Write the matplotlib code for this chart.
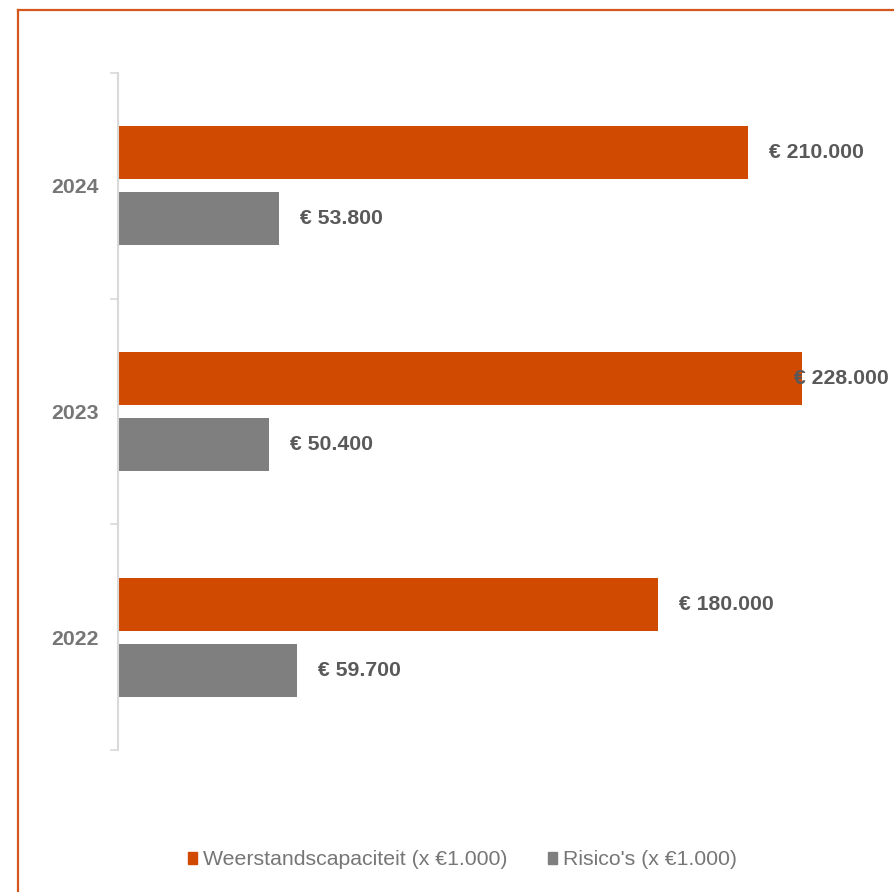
import matplotlib.pyplot as plt
from matplotlib.patches import Patch
from matplotlib.lines import Line2D

years = ['2022', '2023', '2024']
weerstand = [180000, 228000, 210000]
risicos = [59700, 50400, 53800]
series_names = ["Weerstandscapaciteit (x €1.000)", "Risico's (x €1.000)"]

ORANGE = '#D04A02'
GREY = '#7F7F7F'
FRAME = '#D6571C'
LABEL_COL = '#595959'
TICK_COL = '#767676'
FS = 15.3

plt.rcParams['font.family'] = ['Liberation Sans', 'DejaVu Sans']


def euro(v):
    return '€ ' + f'{v:,.0f}'.replace(',', '.')


fig = plt.figure(figsize=(8.94, 8.92), dpi=100)
ax = fig.add_axes([118 / 894, 142 / 892, 776 / 894, 677 / 892])

pos = range(len(years))
h = 0.235
off = 0.146
bars1 = ax.barh([p + off for p in pos], weerstand, height=h, color=ORANGE)
bars2 = ax.barh([p - off for p in pos], risicos, height=h, color=GREY)

ax.set_xlim(0, 258700)
ax.set_ylim(-0.5, 2.5)

# axis styling
for s in ['top', 'right', 'bottom']:
    ax.spines[s].set_visible(False)
ax.spines['left'].set_color('#D9D9D9')
ax.spines['left'].set_linewidth(1.5)
ax.set_xticks([])
ax.set_yticks([-0.5, 0.5, 1.5, 2.5])
ax.set_yticklabels([])
ax.set_yticks(list(pos), minor=True)
ax.set_yticklabels(years, minor=True, fontsize=FS, fontweight='bold', color=TICK_COL)
ax.tick_params(axis='y', which='major', length=6, width=1.2, color='#D9D9D9')
ax.tick_params(axis='y', which='minor', length=0, pad=13.5)

# value labels
texts = []
for bars, vals in [(bars1, weerstand), (bars2, risicos)]:
    for b, v in zip(bars, vals):
        t = ax.annotate(euro(v), (v, b.get_y() + b.get_height() / 2),
                        xytext=(15, 0), textcoords='offset points',
                        ha='left', va='center', fontsize=FS,
                        fontweight='bold', color=LABEL_COL)
        texts.append((t, v))

fig.canvas.draw()
r = fig.canvas.get_renderer()
fig_w = fig.bbox.width
for t, v in texts:
    ext = t.get_window_extent(r)
    if ext.x1 > fig_w - 4:
        t.xyann = (-4, 0)
        t.set_ha('right')
        t.xy = (ax.get_xlim()[1], t.xy[1])

# legend
handles = [Patch(color=ORANGE), Patch(color=GREY)]
fig.legend(handles, series_names, loc='center', bbox_to_anchor=(0.517, 0.036),
           ncol=2, frameon=False, fontsize=FS, labelcolor=TICK_COL,
           handlelength=0.45, handleheight=0.45, handletextpad=0.25,
           columnspacing=1.9)

# orange frame (left and top edges)
fig.add_artist(Line2D([17.5 / 894, 17.5 / 894], [0, 1 - 9.5 / 892],
                      transform=fig.transFigure, color=FRAME, lw=1.6))
fig.add_artist(Line2D([17.5 / 894, 1], [1 - 9.5 / 892, 1 - 9.5 / 892],
                      transform=fig.transFigure, color=FRAME, lw=1.6,
                      solid_capstyle='projecting'))

fig.savefig('out.png', dpi=100)
